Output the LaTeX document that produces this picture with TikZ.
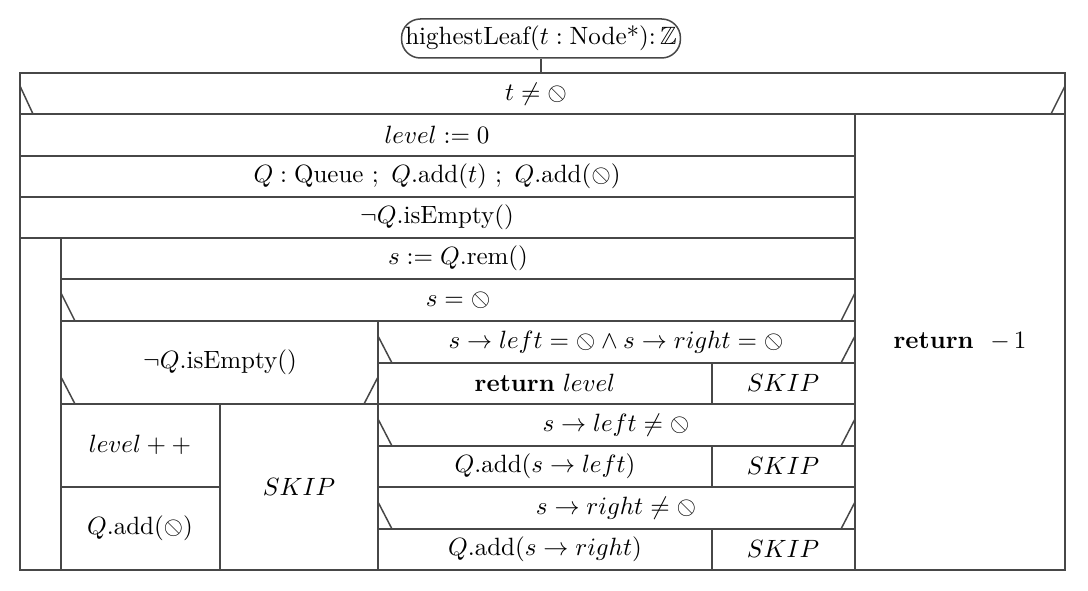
\documentclass[tikz,border=0pt]{standalone}
\usepackage{amsmath,amssymb}
\usepackage{graphicx}
\newcommand{\nil}{\mathord{\reflectbox{$\oslash$}}}
\begin{document}
\begin{tikzpicture}[x=0.4pt,y=-0.4pt,
  ln/.style={line width=0.6pt,draw=black!72},
  txt/.style={inner sep=0pt,anchor=center},
  titlebox/.style={ln,rounded corners=7.5pt,inner xsep=1.5pt,inner ysep=2pt,minimum width=108.8pt,minimum height=15.6pt}]
\useasboundingbox (0,0) rectangle (1088,591);
% title
\node[titlebox] (title) at (541,38.5) {highestLeaf($t:\text{Node*}$):\,$\mathbb{Z}$};
\coordinate (top) at (541,73);
\draw[ln] (title.south) -- (top);
% outer frame and rows
\draw[ln] (20,73) rectangle (1065,570);
\draw[ln] (20,114) -- (1065,114);
\draw[ln] (20,86) -- (33,114);
\draw[ln] (1065,86) -- (1051,114);
\draw[ln] (855,114) -- (855,570);
\draw[ln] (20,156) -- (855,156);
\draw[ln] (20,197) -- (855,197);
\draw[ln] (20,238) -- (855,238);
% loop body
\draw[ln] (61,238) -- (61,570);
\draw[ln] (61,279) -- (855,279);
\draw[ln] (61,321) -- (855,321);
\draw[ln] (61,293) -- (75,321);
\draw[ln] (855,293) -- (841,321);
\draw[ln] (378,321) -- (378,570);
% left branch
\draw[ln] (61,404) -- (855,404);
\draw[ln] (61,377) -- (75,404);
\draw[ln] (378,377) -- (364,404);
\draw[ln] (220,404) -- (220,570);
\draw[ln] (61,487) -- (220,487);
% right branch
\draw[ln] (378,363) -- (855,363);
\draw[ln] (378,446) -- (855,446);
\draw[ln] (378,487) -- (855,487);
\draw[ln] (378,529) -- (855,529);
\foreach \yb in {363,446,529}{
  \draw[ln] (378,\yb-27) -- (392,\yb);
  \draw[ln] (855,\yb-27) -- (841,\yb);
}
\draw[ln] (712,363) -- (712,404);
\draw[ln] (712,446) -- (712,487);
\draw[ln] (712,529) -- (712,570);
% texts
\node[txt] (c0) at (536,94) {$t \neq \nil$};
\node[txt] (a1) at (437,135) {$level := 0$};
\node[txt] (a2) at (437,176) {$Q:\text{Queue}\ ;\ Q.\text{add}(t)\ ;\ Q.\text{add}(\nil)$};
\node[txt] (w1) at (437,217) {$\neg Q.\text{isEmpty}()$};
\node[txt] (a3) at (458,258) {$s := Q.\text{rem}()$};
\node[txt] (c1) at (458,300) {$s = \nil$};
\node[txt] (c2) at (220,362) {$\neg Q.\text{isEmpty}()$};
\node[txt] (a4) at (140,445) {$level++$};
\node[txt] (a5) at (140,528) {$Q.\text{add}(\nil)$};
\node[txt] (k1) at (299,487) {$SKIP$};
\node[txt] (c3) at (616,342) {$s \to left = \nil \wedge s \to right = \nil$};
\node[txt] (r1) at (545,383) {\textbf{return} $level$};
\node[txt] (k2) at (783,383) {$SKIP$};
\node[txt] (c4) at (616,425) {$s \to left \neq \nil$};
\node[txt] (a6) at (545,466) {$Q.\text{add}(s \to left)$};
\node[txt] (k3) at (783,466) {$SKIP$};
\node[txt] (c5) at (616,508) {$s \to right \neq \nil$};
\node[txt] (a7) at (545,549) {$Q.\text{add}(s \to right)$};
\node[txt] (k4) at (783,549) {$SKIP$};
\node[txt] (r2) at (960,341) {\textbf{return}\ \ $-\,1$};
\end{tikzpicture}
\end{document}
